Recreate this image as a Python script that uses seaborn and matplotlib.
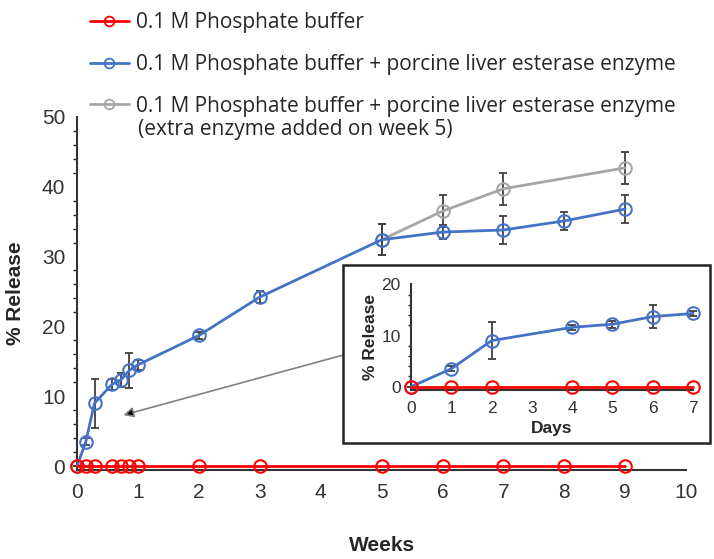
import numpy as np
import pandas as pd
import seaborn as sns
import matplotlib.pyplot as plt
from matplotlib.lines import Line2D
from matplotlib.patches import Rectangle

# main chart (weeks)
buf_weeks = [0, 1/7, 2/7, 4/7, 5/7, 6/7, 1, 2, 3, 5, 6, 7, 8, 9]
buf_vals = [0] * 14
enz_weeks = [0, 1/7, 2/7, 4/7, 5/7, 6/7, 1, 2, 3, 5, 6, 7, 8, 9]
enz_vals = [0, 3.5, 9.0, 11.7, 12.3, 13.7, 14.5, 18.7, 24.2, 32.4, 33.5, 33.8, 35.1, 36.8]
enz_err = [0, 0.5, 3.5, 0.8, 1.0, 2.5, 0.7, 0.5, 0.8, 2.2, 1.0, 2.0, 1.3, 2.0]
extra_weeks = [5, 6, 7, 9]
extra_vals = [32.4, 36.5, 39.7, 42.7]
extra_err = [2.2, 2.3, 2.3, 2.3]

# inset (days)
days = [0, 1, 2, 4, 5, 6, 7]
buf_day_vals = [0, 0, 0, 0, 0, 0, 0]
enz_day_vals = [0, 3.5, 9.0, 11.6, 12.2, 13.7, 14.3]
enz_day_err = [0, 0.5, 3.6, 0.5, 0.7, 2.3, 0.5]

labels = ['0.1 M Phosphate buffer',
          '0.1 M Phosphate buffer + porcine liver esterase enzyme',
          '0.1 M Phosphate buffer + porcine liver esterase enzyme']
label_note = '(extra enzyme added on week 5)'
RED, BLUE, GREY = '#ff0000', '#4472c4', '#a6a6a6'
ECOL = '#404040'

sns.set_style('white')
plt.rcParams['font.family'] = ['Liberation Sans', 'DejaVu Sans']

fig = plt.figure(figsize=(7.14, 5.59), dpi=100)
ax = fig.add_axes([0.108, 0.160, 0.853, 0.631])

mk = dict(marker='o', markersize=9, markerfacecolor='none', markeredgewidth=1.5)

def draw(a, x, y, err, color, z):
    if err is not None:
        a.errorbar(x, y, yerr=err, fmt='none', ecolor=ECOL, elinewidth=1.3,
                   capsize=3, capthick=1.3, zorder=z - 1, clip_on=False)
    d = pd.DataFrame({'x': x, 'y': y})
    sns.lineplot(data=d, x='x', y='y', ax=a, color=color, lw=2, markeredgecolor=color,
                 zorder=z, clip_on=False, **mk)

draw(ax, extra_weeks, extra_vals, extra_err, GREY, 3)
draw(ax, enz_weeks, enz_vals, enz_err, BLUE, 4)
draw(ax, buf_weeks, buf_vals, None, RED, 5)

ax.set_xlim(0, 10)
ax.set_ylim(-0.5, 50)
ax.set_xticks(range(11))
ax.set_yticks(range(0, 51, 10))
ax.set_yticks(range(0, 51, 2), minor=True)
ax.tick_params(axis='x', direction='in', length=5, width=1.2, labelsize=15, pad=10, colors='#333333')
ax.tick_params(axis='y', which='major', direction='out', length=5, width=1.2, labelsize=15, colors='#333333')
ax.tick_params(axis='y', which='minor', direction='out', length=3, width=1, left=True)
for s in ['top', 'right']:
    ax.spines[s].set_visible(False)
for s in ['left', 'bottom']:
    ax.spines[s].set_color('#333333')
    ax.spines[s].set_linewidth(1.5)
ax.set_xlabel('Weeks', fontsize=15, fontweight='bold', labelpad=24)
ax.set_ylabel('% Release', fontsize=15, fontweight='bold', labelpad=12)

ax.annotate('', xy=(0.76, 7.3), xytext=(4.37, 15.9),
            arrowprops=dict(arrowstyle='-|>', color='#808080', lw=1.2,
                            mutation_scale=15, shrinkA=0, shrinkB=0, fc='black'))

# inset
fig.add_artist(Rectangle((343/714, 1 - 443/559), 367/714, 178/559, transform=fig.transFigure,
                         fill=True, facecolor='white', edgecolor='#222222', lw=1.8, zorder=5))
ins = fig.add_axes([0.5756, 0.3027, 0.395, 0.1887], zorder=6)
ins.patch.set_alpha(0)
draw(ins, days, enz_day_vals, enz_day_err, BLUE, 4)
draw(ins, days, buf_day_vals, None, RED, 5)
ins.set_xlim(0, 7)
ins.set_ylim(-0.6, 20)
ins.set_xticks(range(8))
ins.set_yticks([0, 10, 20])
ins.set_yticks(range(0, 21, 2), minor=True)
ins.tick_params(axis='x', direction='in', length=4, width=1.2, labelsize=12.5, pad=8, colors='#333333')
ins.tick_params(axis='y', which='major', direction='out', length=4, width=1.2, labelsize=12.5, colors='#333333')
ins.tick_params(axis='y', which='minor', direction='out', length=2.5, width=1, left=True)
for s in ['top', 'right']:
    ins.spines[s].set_visible(False)
for s in ['left', 'bottom']:
    ins.spines[s].set_color('#333333')
    ins.spines[s].set_linewidth(1.5)
ins.set_xlabel('Days', fontsize=12.5, fontweight='bold', labelpad=4)
ins.set_ylabel('% Release', fontsize=12.5, fontweight='bold', labelpad=2)

mk_leg = dict(marker='o', markersize=7, markerfacecolor='none', markeredgewidth=1.3)
handles = [Line2D([], [], color=c, lw=2, markeredgecolor=c, **mk_leg) for c in (RED, BLUE, GREY)]
fig.legend(handles, labels, loc='upper left', bbox_to_anchor=(90/714, 1 - 12/559), frameon=False,
           prop={'family': 'Open Sans', 'size': 15}, handlelength=1.85, handletextpad=0.35,
           labelspacing=1.0, borderpad=0, borderaxespad=0)
fig.text(138/714, 1 - 129/559, label_note, family='Open Sans', fontsize=15, va='center', ha='left')

fig.savefig('out.png', dpi=100)
